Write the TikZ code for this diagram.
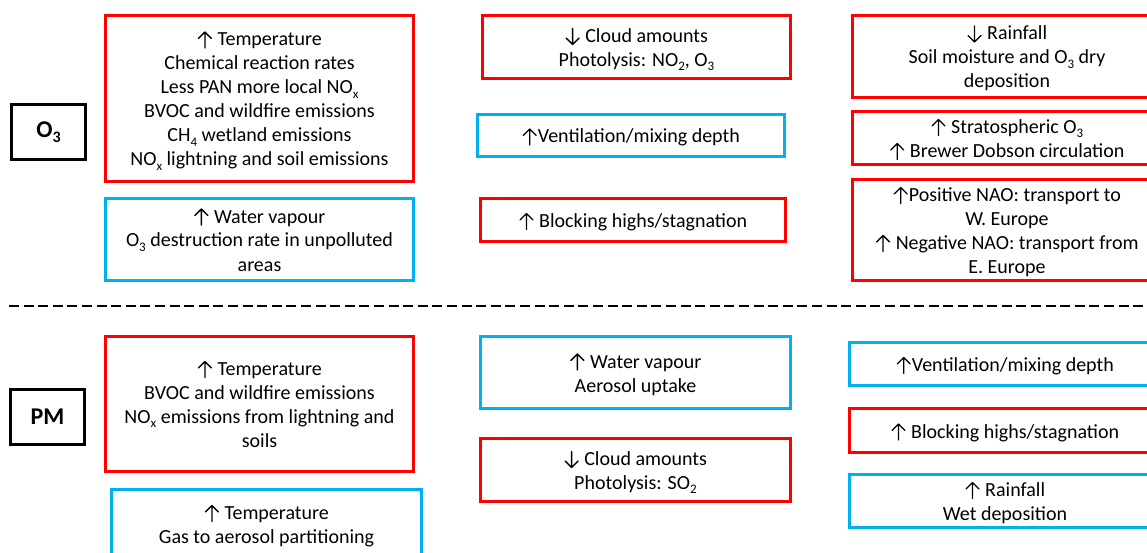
\documentclass[tikz,border=0pt]{standalone}
\usepackage{fontspec}
\usepackage{array}
\setmainfont{Carlito}
% thin open-headed arrows set inline with the text
\newcommand\up{\hspace{0.5pt}\tikz[baseline=0pt]{\draw[black, line width=1.3pt, line cap=round, line join=round]
  (0pt,-2pt) -- (0pt,14pt) (-6.5pt,7.5pt) -- (0pt,14pt) -- (6.5pt,7.5pt);}\hspace{1pt}}
\newcommand\down{\hspace{0.5pt}\tikz[baseline=0pt]{\draw[black, line width=1.3pt, line cap=round, line join=round]
  (0pt,14pt) -- (0pt,-2pt) (-6.5pt,4.5pt) -- (0pt,-2pt) -- (6.5pt,4.5pt);}\hspace{1pt}}
\newcommand\sbs[1]{\raisebox{-0.22em}{\fontsize{13}{13}\selectfont #1}}
\newcommand\sbsbig[1]{\raisebox{-0.2em}{\fontsize{16}{16}\selectfont #1}}
% every text line occupies exactly 24pt, baseline 19.5pt below its top
\newcolumntype{L}{>{\rule[-4.5pt]{0pt}{24pt}}c}
\newcommand\lines[1]{{\renewcommand\arraystretch{0}\setlength\tabcolsep{0pt}%
  \begin{tabular}{L}#1\end{tabular}}}
\definecolor{boxred}{HTML}{FF0000}
\definecolor{boxblue}{HTML}{00B0F0}
\tikzset{
  factor/.style={draw, line width=3pt, inner sep=0pt,
    font=\fontsize{20}{24}\selectfont},
  warm/.style={factor, draw=boxred},
  cool/.style={factor, draw=boxblue},
  species/.style={draw=black, line width=3pt, inner sep=0pt,
    minimum width=74pt, minimum height=55pt,
    font=\fontsize{24}{28}\selectfont\bfseries},
  divider/.style={line width=2pt, dash pattern=on 10pt off 4.6pt}
}
\begin{document}
\begin{tikzpicture}[x=1pt, y=-1pt]
\useasboundingbox (0,0) rectangle (1147,553);
\clip (0,0) rectangle (1147,553);
\fill[white] (0,0) rectangle (1147,553);

% ---- Ozone ----
\node[species] (o3) at (48.5,132) {O\sbsbig{3}};

\node[warm, minimum width=308pt, minimum height=166pt] (o3temp) at (259.5,98.5)
  {\lines{\up{} Temperature\\Chemical reaction rates\\Less PAN more local NO\sbs{x}\\
   BVOC and wildfire emissions\\CH\sbs{4} wetland emissions\\NO\sbs{x} lightning and soil emissions}};
\node[cool, minimum width=308pt, minimum height=82pt] (o3water) at (259.5,239.5)
  {\lines{\up{} Water vapour\\O\sbs{3} destruction rate in unpolluted\\areas}};

\node[warm, minimum width=308pt, minimum height=63pt] (o3cloud) at (636.5,47)
  {\lines{\down{} Cloud amounts\\Photolysis: NO\sbs{2}, O\sbs{3}}};
\node[cool, minimum width=307pt, minimum height=42pt] (o3vent) at (631,135.5)
  {\lines{\up{}Ventilation/mixing depth}};
\node[warm, minimum width=305pt, minimum height=43pt] (o3block) at (633,220)
  {\lines{\up{} Blocking highs/stagnation}};

\node[warm, minimum width=309pt, minimum height=82pt] (o3rain) at (1007,56.5)
  {\lines{\down{} Rainfall\\Soil moisture and O\sbs{3} dry\\deposition}};
\node[warm, minimum width=309pt, minimum height=53pt] (o3strat) at (1007,138)
  {\lines{\up{} Stratospheric O\sbs{3}\\\up{} Brewer Dobson circulation}};
\node[warm, minimum width=309pt, minimum height=101pt] (o3nao) at (1007,230)
  {\lines{\up{}Positive NAO: transport to\\W. Europe\\\up{} Negative NAO: transport from\\E. Europe}};

% ---- separator ----
\coordinate (sepL) at (9,306);
\coordinate (sepR) at (1160,306);
\draw[divider] (sepL) -- (sepR);

% ---- Particulate matter ----
\node[species] (pm) at (47.5,416.5) {PM};

\node[warm, minimum width=308pt, minimum height=135pt] (pmtemp) at (259.5,404)
  {\lines{\up{} Temperature\\BVOC and wildfire emissions\\NO\sbs{x} emissions from lightning and\\soils}};
\node[cool, minimum width=310pt, minimum height=70pt] (pmpart) at (266.5,524)
  {\lines{\up{} Temperature\\Gas to aerosol partitioning}};

\node[cool, minimum width=310pt, minimum height=72pt] (pmwater) at (635.5,372.5)
  {\lines{\up{} Water vapour\\Aerosol uptake}};
\node[warm, minimum width=310pt, minimum height=63pt] (pmcloud) at (635.5,470)
  {\lines{\down{} Cloud amounts\\Photolysis: SO\sbs{2}}};

\node[cool, minimum width=312pt, minimum height=43pt] (pmvent) at (1005,364)
  {\lines{\up{}Ventilation/mixing depth}};
\node[warm, minimum width=312pt, minimum height=44pt] (pmblock) at (1005,430.5)
  {\lines{\up{} Blocking highs/stagnation}};
\node[cool, minimum width=312pt, minimum height=53pt] (pmrain) at (1005,501)
  {\lines{\up{} Rainfall\\Wet deposition}};
\end{tikzpicture}
\end{document}
